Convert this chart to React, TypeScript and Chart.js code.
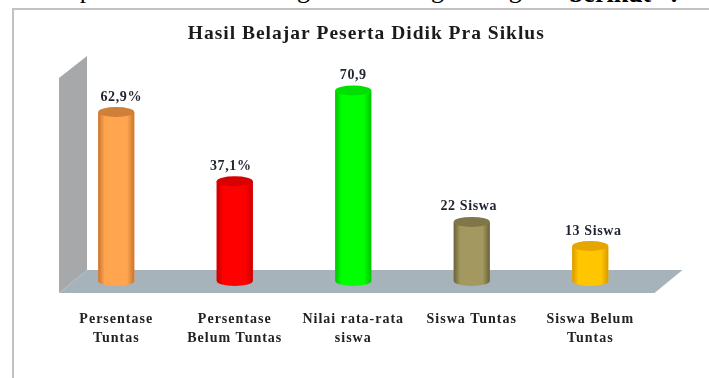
import React, { useEffect, useRef } from "react";
import { Chart, registerables } from "chart.js";

Chart.register(...registerables);

const headline = "untuk pada data dan diagram masing sebagai";
const headlineEnd = "berikut :";
const chartTitle = "Hasil Belajar Peserta Didik Pra Siklus";

const categories = [
  ["Persentase", "Tuntas"],
  ["Persentase", "Belum Tuntas"],
  ["Nilai rata-rata", "siswa"],
  ["Siswa Tuntas"],
  ["Siswa Belum", "Tuntas"],
];
const values = [62.9, 37.1, 70.9, 22, 13];
const valueSuffixes = ["%", "%", "", " Siswa", " Siswa"];

const bodyColors = ["#FFA54F", "#FF0000", "#00FF00", "#A3985F", "#FFC600"];
const edgeColors = ["#C8752E", "#C80000", "#00C400", "#6B6338", "#DA9A00"];
const capColors = ["#CF8038", "#D80000", "#00E000", "#7F7649", "#E6A600"];

const axisMax = 80;
const labelNudge = [5, -4, 0, -3, 3];
const serif = '"Liberation Serif", "Times New Roman", serif';

const cylinders = {
  id: "cylinders",
  afterDatasetsDraw(chart: any) {
    const { ctx } = chart;
    chart.getDatasetMeta(0).data.forEach((bar: any, i: number) => {
      const r = bar.width / 2;
      const capH = 5;
      const body = ctx.createLinearGradient(bar.x - r, 0, bar.x + r, 0);
      body.addColorStop(0, edgeColors[i]);
      body.addColorStop(0.18, bodyColors[i]);
      body.addColorStop(0.8, bodyColors[i]);
      body.addColorStop(1, edgeColors[i]);
      ctx.save();
      ctx.fillStyle = body;
      ctx.beginPath();
      ctx.moveTo(bar.x - r, bar.y);
      ctx.lineTo(bar.x + r, bar.y);
      ctx.lineTo(bar.x + r, bar.base);
      ctx.ellipse(bar.x, bar.base, r, capH, 0, 0, Math.PI);
      ctx.closePath();
      ctx.fill();
      ctx.fillStyle = capColors[i];
      ctx.beginPath();
      ctx.ellipse(bar.x, bar.y, r, capH, 0, 0, Math.PI * 2);
      ctx.fill();

      ctx.fillStyle = "#1f2430";
      ctx.font = `bold 14px ${serif}`;
      (ctx as any).letterSpacing = "0.6px";
      ctx.textAlign = "center";
      ctx.textBaseline = "middle";
      const text = String(values[i]).replace(".", ",") + valueSuffixes[i];
      ctx.fillText(text, bar.x + labelNudge[i], bar.y - 15);
      ctx.restore();
    });
  },
};

// Side wall, floor and outer frame of the pseudo-3D plot box.
const stage = {
  id: "stage",
  afterLayout(chart: any) {
    chart.titleBlock.left += 13;
    chart.titleBlock.right += 13;
  },
  beforeDraw(chart: any) {
    const { ctx, width, height } = chart;
    ctx.save();
    ctx.strokeStyle = "#c2c2c2";
    ctx.lineWidth = 2;
    ctx.beginPath();
    ctx.moveTo(13, height);
    ctx.lineTo(13, 9);
    ctx.lineTo(width, 9);
    ctx.stroke();
    ctx.restore();
    // Wide tracking used by the title and the category labels.
    (ctx as any).letterSpacing = "1px";
  },
  beforeDatasetsDraw(chart: any) {
    const { ctx, chartArea, scales } = chart;
    const depthX = 28;
    const depthY = 23;
    const frontLeft = chartArea.left + 2;
    const frontRight = chartArea.right + 5;
    const frontBase = scales.y.getPixelForValue(0) + 12;
    const frontTop = scales.y.getPixelForValue(axisMax) + 12;
    ctx.save();
    ctx.fillStyle = "#A6A8AA";
    ctx.beginPath();
    ctx.moveTo(frontLeft, frontBase);
    ctx.lineTo(frontLeft, frontTop);
    ctx.lineTo(frontLeft + depthX, frontTop - depthY + 1);
    ctx.lineTo(frontLeft + depthX, frontBase - depthY);
    ctx.closePath();
    ctx.fill();
    ctx.fillStyle = "#A7B3BA";
    ctx.beginPath();
    ctx.moveTo(frontLeft, frontBase);
    ctx.lineTo(frontLeft + depthX, frontBase - depthY);
    ctx.lineTo(frontRight + depthX, frontBase - depthY);
    ctx.lineTo(frontRight, frontBase);
    ctx.closePath();
    ctx.fill();
    ctx.restore();
  },
};

export default function App() {
  const canvasRef = useRef<HTMLCanvasElement>(null);

  useEffect(() => {
    const chart = new Chart(canvasRef.current!, {
      type: "bar",
      data: {
        labels: categories,
        datasets: [
          {
            data: values,
            backgroundColor: bodyColors,
            categoryPercentage: 1,
            barPercentage: 0.304,
          },
        ],
      },
      options: {
        responsive: false,
        animation: false,
        layout: { padding: { left: 57, right: 59.5, top: 0, bottom: 0 } },
        plugins: {
          legend: { display: false },
          tooltip: { enabled: false },
          title: {
            display: true,
            text: chartTitle,
            color: "#1b1b1b",
            font: { family: serif, size: 19.5, weight: "bold", lineHeight: 1.2 },
            padding: { top: 22, bottom: 20.6 },
          },
        },
        scales: {
          x: {
            grid: { display: false },
            border: { display: false },
            ticks: {
              color: "#222222",
              font: { family: serif, size: 14, weight: "bold", lineHeight: 1.36 },
              padding: 21,
              maxRotation: 0,
              autoSkip: false,
            },
            afterFit(scale: any) {
              scale.height = 97;
            },
          },
          y: { display: false, min: 0, max: axisMax },
        },
      },
      plugins: [stage, cylinders],
    });
    return () => chart.destroy();
  }, []);

  return (
    <div style={{ position: "fixed", left: 0, top: 0, width: 709, height: 378, overflow: "hidden", background: "#fff" }}>
      <div
        style={{
          position: "absolute",
          left: 2,
          top: -24,
          whiteSpace: "nowrap",
          fontFamily: serif,
          fontSize: 26,
          wordSpacing: 12,
          lineHeight: "28px",
          color: "#000",
        }}
      >
        {headline} <b style={{ position: "relative", top: 4, marginLeft: 10 }}>{headlineEnd}</b>
      </div>
      <canvas ref={canvasRef} width={709} height={378} style={{ position: "absolute", left: 0, top: 0 }} />
    </div>
  );
}
